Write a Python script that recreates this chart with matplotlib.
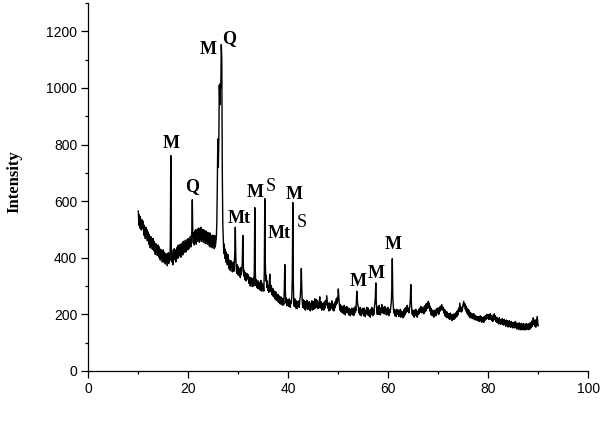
import numpy as np
import matplotlib
matplotlib.use("Agg")
import matplotlib.pyplot as plt
from matplotlib.ticker import MultipleLocator

# ---- data ----
start_angle = 10.0   # 2theta of first sample
step = 0.1           # sampling step (degrees)

intensity = [
    565, 515, 552, 505, 545, 520, 498, 535, 502, 530,   # 10
    522, 480, 515, 490, 468, 508, 475, 500, 460, 492,   # 11
    490, 448, 482, 455, 435, 475, 442, 468, 430, 462,   # 12
    468, 425, 458, 432, 412, 450, 422, 445, 408, 440,   # 13
    445, 402, 438, 412, 392, 430, 398, 425, 385, 420,   # 14
    428, 385, 420, 395, 378, 415, 388, 410, 372, 405,   # 15
    418, 380, 412, 390, 445, 761, 422, 385, 415, 375,   # 16
    428, 392, 432, 398, 425, 385, 430, 405, 438, 398,   # 17
    445, 405, 440, 412, 448, 402, 445, 418, 452, 410,   # 18
    458, 418, 452, 425, 462, 420, 455, 430, 465, 428,   # 19
    468, 432, 462, 440, 475, 438, 470, 492, 605, 480,   # 20
    452, 488, 445, 495, 455, 500, 448, 490, 458, 502,   # 21
    462, 505, 455, 495, 465, 508, 458, 492, 468, 500,   # 22
    455, 498, 462, 490, 450, 495, 460, 485, 448, 490,   # 23
    452, 485, 442, 488, 438, 480, 445, 478, 435, 480,   # 24
    440, 475, 432, 478, 438, 455, 470, 520, 650, 820,   # 25
    720, 810, 1010, 940, 1015, 1000, 1153, 1100, 700, 520,  # 26
    470, 415, 448, 398, 430, 385, 420, 402, 375, 412,   # 27
    398, 362, 392, 378, 355, 390, 368, 382, 350, 375,   # 28
    385, 352, 372, 420, 508, 405, 360, 345, 375, 340,   # 29
    368, 338, 362, 350, 330, 365, 340, 352, 385, 479,   # 30
    380, 335, 355, 322, 348, 330, 318, 345, 325, 335,   # 31
    340, 310, 332, 318, 300, 330, 312, 325, 298, 320,   # 32
    328, 300, 352, 577, 355, 302, 322, 295, 318, 292,   # 33
    318, 290, 305, 312, 285, 320, 295, 282, 310, 290,   # 34
    302, 282, 352, 609, 385, 318, 338, 295, 318, 285,   # 35
    300, 278, 310, 342, 298, 280, 302, 270, 292, 265,   # 36
    290, 262, 282, 255, 275, 280, 250, 272, 258, 245,   # 37
    270, 242, 265, 238, 255, 262, 235, 258, 248, 232,   # 38
    255, 235, 288, 376, 292, 240, 258, 230, 252, 238,   # 39
    252, 228, 255, 238, 225, 248, 240, 262, 330, 595,   # 40
    318, 240, 228, 255, 235, 222, 248, 238, 220, 245,   # 41
    230, 248, 225, 252, 262, 302, 362, 292, 240, 225,   # 42
    252, 222, 248, 235, 215, 245, 230, 250, 218, 238,   # 43
    242, 218, 245, 225, 212, 240, 228, 248, 215, 232,   # 44
    245, 218, 240, 255, 222, 235, 252, 225, 248, 220,   # 45
    242, 222, 250, 262, 238, 222, 245, 215, 238, 228,   # 46
    240, 215, 242, 222, 248, 232, 250, 266, 242, 222,   # 47
    238, 212, 242, 228, 215, 238, 222, 248, 230, 215,   # 48
    235, 212, 238, 222, 245, 232, 255, 238, 260, 248,   # 49
    290, 262, 238, 215, 235, 210, 230, 222, 205, 228,   # 50
    228, 202, 232, 218, 198, 225, 210, 228, 205, 220,   # 51
    222, 198, 220, 210, 195, 218, 205, 222, 198, 212,   # 52
    222, 196, 218, 205, 228, 212, 240, 282, 252, 232,   # 53
    228, 205, 222, 198, 225, 210, 195, 218, 202, 222,   # 54
    218, 195, 222, 205, 192, 215, 205, 225, 198, 210,   # 55
    222, 195, 215, 205, 190, 218, 200, 225, 205, 195,   # 56
    218, 200, 222, 238, 258, 311, 242, 212, 200, 222,   # 57
    228, 200, 232, 210, 198, 222, 205, 235, 215, 205,   # 58
    225, 210, 202, 228, 212, 222, 198, 218, 200, 225,   # 59
    215, 195, 218, 205, 212, 228, 242, 292, 397, 262,   # 60
    228, 205, 218, 195, 215, 205, 192, 218, 200, 212,   # 61
    215, 192, 210, 198, 218, 190, 212, 195, 205, 188,   # 62
    212, 192, 218, 198, 222, 205, 225, 210, 232, 212,   # 63
    222, 205, 218, 228, 252, 305, 248, 212, 200, 215,   # 64
    195, 212, 190, 215, 198, 218, 195, 210, 190, 212,   # 65
    200, 218, 202, 222, 208, 228, 212, 205, 225, 208,   # 66
    220, 202, 228, 208, 232, 212, 238, 220, 240, 222,   # 67
    246, 228, 240, 212, 228, 200, 220, 196, 215, 195,   # 68
    210, 190, 215, 198, 212, 195, 218, 202, 222, 208,   # 69
    218, 200, 225, 210, 228, 215, 230, 234, 222, 215,   # 70
    225, 205, 218, 195, 215, 192, 210, 188, 208, 192,   # 71
    202, 185, 200, 182, 205, 188, 198, 178, 200, 185,   # 72
    198, 182, 202, 185, 200, 190, 208, 192, 212, 198,   # 73
    218, 222, 210, 240, 228, 215, 208, 225, 212, 230,   # 74
    238, 246, 228, 238, 218, 230, 210, 222, 202, 218,   # 75
    198, 215, 192, 208, 188, 205, 190, 200, 185, 202,   # 76
    190, 202, 182, 198, 180, 195, 182, 192, 178, 190,   # 77
    192, 176, 190, 175, 195, 180, 192, 172, 188, 176,   # 78
    190, 172, 192, 178, 195, 182, 198, 185, 200, 188,   # 79
    198, 182, 200, 185, 202, 182, 195, 178, 192, 175,   # 80
    198, 180, 202, 182, 195, 175, 190, 172, 188, 170,   # 81
    185, 166, 188, 170, 182, 165, 180, 170, 185, 164,   # 82
    180, 162, 182, 165, 178, 158, 180, 162, 178, 156,   # 83
    175, 156, 178, 162, 172, 154, 175, 158, 170, 152,   # 84
    172, 154, 170, 152, 175, 156, 170, 148, 168, 155,   # 85
    168, 146, 170, 152, 165, 145, 168, 148, 162, 146,   # 86
    168, 146, 165, 145, 162, 148, 168, 146, 165, 152,   # 87
    165, 146, 168, 148, 170, 152, 172, 156, 178, 162,   # 88
    188, 166, 180, 158, 178, 155, 182, 162, 192, 168,   # 89
    160,                                                # 90
]

peak_labels = ["M", "Q", "M", "Q", "Mt", "M", "S", "Mt", "M", "S", "M", "M", "M"]
label_x = [16.5, 20.7, 23.9, 28.1, 30.1, 33.3, 36.5, 38.1, 41.1, 42.7, 53.9, 57.5, 60.9]
label_y = [802, 650, 1136, 1175, 540, 632, 653, 486, 625, 525, 316, 344, 447]
label_bold = [True, True, True, True, True, True, False, True, True, False, True, True, True]

x_ticks = [0, 20, 40, 60, 80, 100]
y_ticks = [0, 200, 400, 600, 800, 1000, 1200]

# ---- plot ----
two_theta = start_angle + step * np.arange(len(intensity))

fig = plt.figure(figsize=(6.02, 4.34), dpi=100)
ax = fig.add_axes([88.3 / 602, 1 - 371 / 434, 500 / 602, 368 / 434])

ax.plot(two_theta, intensity, color="black", lw=1.0)

ax.set_xlim(0, 100)
ax.set_ylim(0, 1300)
ax.set_xticks(x_ticks)
ax.set_yticks(y_ticks)
ax.xaxis.set_minor_locator(MultipleLocator(10))
ax.yaxis.set_minor_locator(MultipleLocator(100))

for s in ["top", "right"]:
    ax.spines[s].set_visible(False)
for s in ["left", "bottom"]:
    ax.spines[s].set_linewidth(0.9)

ax.tick_params(which="major", direction="out", length=5, width=0.9,
               labelsize=10, pad=3)
ax.tick_params(which="minor", direction="out", length=2.5, width=0.9)
for lab in ax.get_xticklabels() + ax.get_yticklabels():
    lab.set_fontfamily(["Liberation Sans", "DejaVu Sans"])

for lab, lx, ly, b in zip(peak_labels, label_x, label_y, label_bold):
    ax.text(lx, ly, lab, ha="center", va="center",
            fontsize=13, fontweight="bold" if b else "normal",
            family=["Liberation Serif", "DejaVu Serif"])

fig.text(14 / 602, 1 - 182 / 434, "Intensity", rotation=90, ha="center",
         va="center", fontsize=12, fontweight="bold",
         family=["Liberation Serif", "DejaVu Serif"])

fig.savefig("out.png", dpi=100)
